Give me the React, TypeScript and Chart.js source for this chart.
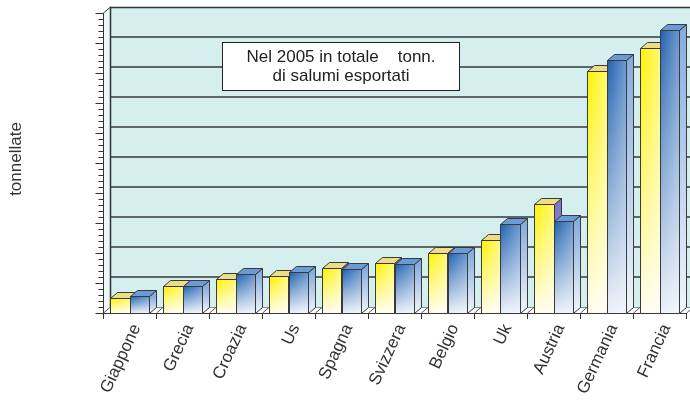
import { useEffect, useRef } from "react";
import { Chart, registerables } from "chart.js";

Chart.register(...registerables);

const categories = ["Giappone", "Grecia", "Croazia", "Us", "Spagna", "Svizzera", "Belgio", "Uk", "Austria", "Germania", "Francia"];
const seriesYellow = [0.5, 0.9, 1.13, 1.23, 1.5, 1.67, 2.0, 2.43, 3.63, 8.07, 8.83];
const seriesBlue = [0.57, 0.9, 1.3, 1.37, 1.47, 1.63, 2.0, 2.97, 3.07, 8.43, 9.43];
const yMin = 0;
const yMax = 10;
const majorStep = 1;
const minorStep = 0.2;
const boxLines = ["Nel 2005 in totale    tonn.", "di salumi esportati"];
const yTitle = "tonnellate";

const FONT = "'Liberation Sans', Arial, Helvetica, sans-serif";
const DX = 7;
const DY = 6;

type BarStyle = { front: [string, string]; top: string; side: [string, string]; sheen: string };
const yellowStyle: BarStyle = { front: ["#fff200", "#fffdf0"], top: "#eedd88", side: ["#7f76c6", "#a9a2dc"], sheen: "rgba(255,255,255,0.45)" };
const blueStyle: BarStyle = { front: ["#1f62b2", "#eef2fa"], top: "#6b9bd6", side: ["#86addf", "#f2f6fc"], sheen: "rgba(255,255,255,0.35)" };

function drawBar(ctx: CanvasRenderingContext2D, el: any, st: BarStyle) {
  const p = el.getProps(["x", "y", "base", "width"], true);
  const x0 = Math.round(p.x - p.width / 2) + 0.5;
  const x1 = Math.round(p.x + p.width / 2) + 0.5;
  const yt = Math.round(p.y) + 0.5;
  const yb = Math.round(p.base) + 0.5;
  const sg = ctx.createLinearGradient(0, yt, 0, yb);
  sg.addColorStop(0, st.side[0]);
  sg.addColorStop(1, st.side[1]);
  ctx.beginPath();
  ctx.moveTo(x1, yt);
  ctx.lineTo(x1 + DX, yt - DY);
  ctx.lineTo(x1 + DX, yb - DY);
  ctx.lineTo(x1, yb);
  ctx.closePath();
  ctx.fillStyle = sg;
  ctx.fill();
  ctx.stroke();
  ctx.beginPath();
  ctx.moveTo(x0, yt);
  ctx.lineTo(x0 + DX, yt - DY);
  ctx.lineTo(x1 + DX, yt - DY);
  ctx.lineTo(x1, yt);
  ctx.closePath();
  ctx.fillStyle = st.top;
  ctx.fill();
  ctx.stroke();
  const fg = ctx.createLinearGradient(0, yt, 0, yb);
  fg.addColorStop(0, st.front[0]);
  fg.addColorStop(1, st.front[1]);
  ctx.fillStyle = fg;
  ctx.fillRect(x0, yt, x1 - x0, yb - yt);
  const hg = ctx.createLinearGradient(x0, 0, x1, 0);
  hg.addColorStop(0, "rgba(255,255,255,0)");
  hg.addColorStop(1, st.sheen);
  ctx.fillStyle = hg;
  ctx.fillRect(x0, yt, x1 - x0, yb - yt);
  ctx.strokeRect(x0, yt, x1 - x0, yb - yt);
}

const threeD = {
  id: "threeD",
  beforeDatasetsDraw(chart: any) {
    const { ctx, chartArea: a, scales } = chart;
    const y = scales.y;
    const x = scales.x;
    const W = chart.width + 10;
    ctx.save();
    ctx.fillStyle = "#d5eeee";
    ctx.fillRect(a.left + DX, a.top - DY, W, a.bottom - a.top);
    ctx.beginPath();
    ctx.moveTo(a.left, a.top);
    ctx.lineTo(a.left + DX, a.top - DY);
    ctx.lineTo(a.left + DX, a.bottom - DY);
    ctx.lineTo(a.left, a.bottom);
    ctx.closePath();
    ctx.fillStyle = "#eef8f8";
    ctx.fill();
    ctx.strokeStyle = "#5f6566";
    ctx.lineWidth = 2;
    for (let v = yMin + majorStep; v < yMax; v += majorStep) {
      const yy = Math.round(y.getPixelForValue(v)) - DY;
      ctx.beginPath();
      ctx.moveTo(a.left + DX, yy);
      ctx.lineTo(W, yy);
      ctx.stroke();
    }
    ctx.beginPath();
    ctx.moveTo(a.left, a.bottom);
    ctx.lineTo(a.left + DX, a.bottom - DY);
    ctx.lineTo(W, a.bottom - DY);
    ctx.lineTo(W, a.bottom);
    ctx.closePath();
    ctx.fillStyle = "#ffffff";
    ctx.fill();
    ctx.lineWidth = 1;
    ctx.strokeStyle = "#8a8f90";
    ctx.beginPath();
    ctx.moveTo(a.left + DX, a.bottom - DY + 0.5);
    ctx.lineTo(W, a.bottom - DY + 0.5);
    ctx.stroke();
    ctx.strokeStyle = "#555";
    const n = categories.length;
    const cw = (a.right - a.left) / n;
    for (let i = 0; i <= n; i++) {
      const bx = Math.round(x.getPixelForValue(i) - cw / 2) + 0.5;
      ctx.beginPath();
      ctx.moveTo(bx, a.bottom);
      ctx.lineTo(bx + DX, a.bottom - DY);
      ctx.stroke();
    }
    ctx.strokeStyle = "#333";
    ctx.lineWidth = 1.5;
    ctx.beginPath();
    ctx.moveTo(a.left + DX + 0.5, a.bottom - DY);
    ctx.lineTo(a.left + DX + 0.5, a.top - DY + 0.5);
    ctx.lineTo(W, a.top - DY + 0.5);
    ctx.stroke();
    ctx.restore();
  },
  afterDatasetsDraw(chart: any) {
    const { ctx } = chart;
    const m0 = chart.getDatasetMeta(0);
    const m1 = chart.getDatasetMeta(1);
    ctx.save();
    ctx.strokeStyle = "#3a3a3a";
    ctx.lineWidth = 1;
    ctx.lineJoin = "round";
    for (let i = 0; i < categories.length; i++) {
      drawBar(ctx, m0.data[i], yellowStyle);
      drawBar(ctx, m1.data[i], blueStyle);
    }
    ctx.restore();
  },
  afterDraw(chart: any) {
    const { ctx, chartArea: a, scales } = chart;
    const y = scales.y;
    ctx.save();
    ctx.strokeStyle = "#333";
    ctx.lineWidth = 1;
    const ax = Math.round(a.left) + 0.5;
    ctx.beginPath();
    ctx.moveTo(ax, a.bottom);
    ctx.lineTo(ax, a.top);
    ctx.lineTo(ax + DX, a.top - DY);
    ctx.stroke();
    const steps = Math.round((yMax - yMin) / minorStep);
    const perMajor = Math.round(majorStep / minorStep);
    for (let k = 0; k <= steps; k++) {
      const v = yMin + k * minorStep;
      const yy = Math.round(y.getPixelForValue(v)) + 0.5;
      const len = k % perMajor === 0 ? 8 : 5;
      ctx.beginPath();
      ctx.moveTo(ax - len, yy);
      ctx.lineTo(ax, yy);
      ctx.stroke();
    }
    ctx.fillStyle = "#333";
    ctx.font = `17px ${FONT}`;
    ctx.textAlign = "center";
    ctx.textBaseline = "middle";
    ctx.translate(16, 159);
    ctx.rotate(-Math.PI / 2);
    ctx.fillText(yTitle, 0, 0);
    ctx.restore();

    ctx.save();
    ctx.fillStyle = "#ffffff";
    ctx.strokeStyle = "#222";
    ctx.lineWidth = 1;
    ctx.fillRect(222.5, 42.5, 237, 48);
    ctx.strokeRect(222.5, 42.5, 237, 48);
    ctx.fillStyle = "#222";
    ctx.font = `17px ${FONT}`;
    ctx.textAlign = "center";
    ctx.textBaseline = "alphabetic";
    ctx.fillText(boxLines[0], 341, 62);
    ctx.fillText(boxLines[1], 341, 81);
    ctx.restore();
  },
};

export default function App() {
  const ref = useRef<HTMLCanvasElement | null>(null);
  useEffect(() => {
    document.body.style.margin = "0";
    const canvas = ref.current;
    if (!canvas) return;
    const chart = new Chart(canvas, {
      type: "bar",
      data: {
        labels: categories,
        datasets: [
          { label: "A", data: seriesYellow, backgroundColor: "rgba(0,0,0,0)", borderWidth: 0 },
          { label: "B", data: seriesBlue, backgroundColor: "rgba(0,0,0,0)", borderWidth: 0 },
        ],
      },
      options: {
        responsive: false,
        animation: false,
        devicePixelRatio: 1,
        layout: { padding: { left: 103, right: 4, top: 13, bottom: 0 } },
        datasets: { bar: { categoryPercentage: 0.72, barPercentage: 1 } },
        plugins: { legend: { display: false }, tooltip: { enabled: false } },
        scales: {
          x: {
            offset: true,
            grid: { display: true, drawOnChartArea: false, drawTicks: true, tickLength: 6, color: "#333", offset: true },
            border: { display: true, color: "#333", width: 1 },
            ticks: { color: "#333", font: { size: 17, family: FONT }, minRotation: 65, maxRotation: 65, padding: 2, labelOffset: 7, autoSkip: false },
            afterFit: (s: any) => {
              s.height = 88;
              s.paddingLeft = 0;
              s.paddingRight = 0;
            },
          },
          y: { display: false, min: yMin, max: yMax },
        },
      },
      plugins: [threeD],
    });
    return () => chart.destroy();
  }, []);
  return (
    <div style={{ width: 690, height: 401 }}>
      <canvas ref={ref} width={690} height={401} style={{ display: "block" }} />
    </div>
  );
}
